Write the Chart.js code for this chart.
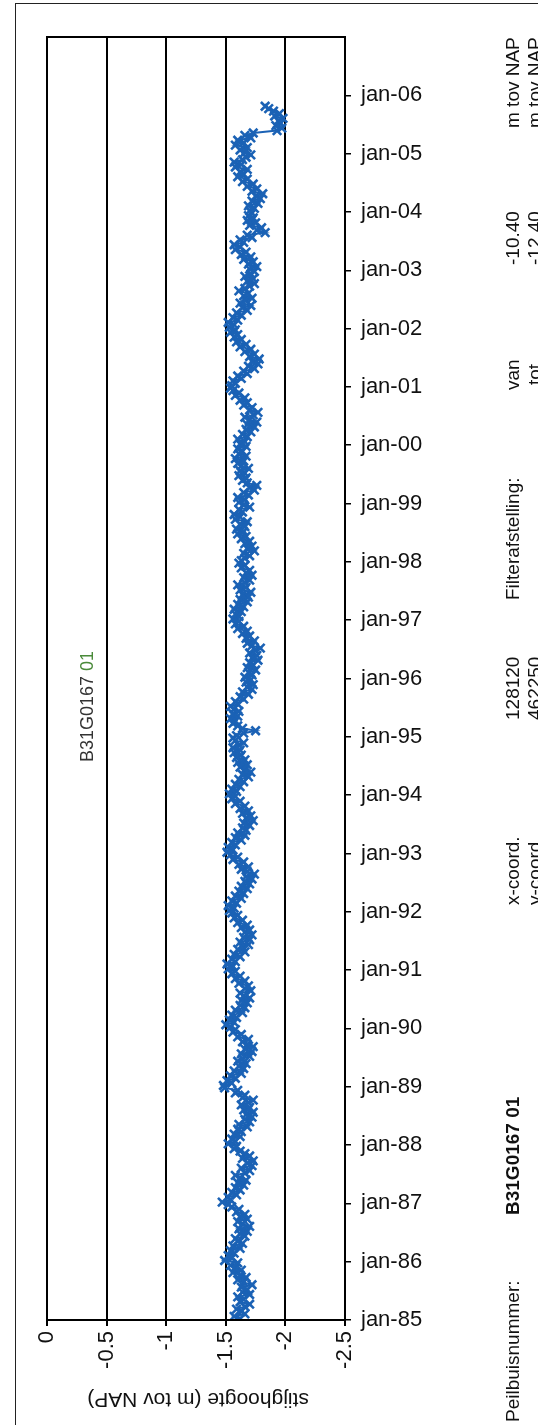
<!DOCTYPE html>
<html>
<head>
<meta charset="utf-8">
<script src="https://cdn.jsdelivr.net/npm/chart.js@4/dist/chart.umd.min.js"></script>
<style>
html,body{margin:0;padding:0;background:#fff;}
#wrap{position:relative;width:538px;height:1425px;overflow:hidden;background:#fff;}
#c{position:absolute;left:0;top:0;}
.frame{position:absolute;left:15px;top:3px;width:600px;height:1500px;border-left:1.5px solid #222;border-top:1.5px solid #222;}
.land{position:absolute;left:0;top:1425px;width:1425px;height:538px;transform-origin:0 0;transform:rotate(-90deg);font-family:"Liberation Sans",Arial,sans-serif;color:#111;}
.t{position:absolute;white-space:nowrap;font-size:19px;line-height:19px;}
.b{font-weight:bold;}
.axt{position:absolute;left:198px;top:1400px;transform:translate(-50%,-50%) rotate(180deg);font-family:"Liberation Sans",Arial,sans-serif;font-size:21px;color:#111;white-space:nowrap;}
</style>
</head>
<body>
<div id="wrap">
<canvas id="c" width="538" height="1425"></canvas>
<div class="frame"></div>
<div class="axt">stijghoogte (m tov NAP)</div>
<div class="land">
  <span class="t" style="left:663px;top:78px;font-size:18px;color:#333;">B31G0167 <span style="color:#4a8a3a;">01</span></span>
  <span class="t" style="left:3px;top:503px;">Peilbuisnummer:</span>
  <span class="t b" style="left:210px;top:503px;">B31G0167 01</span>
  <span class="t" style="left:520px;top:503px;">x-coord.</span>
  <span class="t" style="left:520px;top:525px;">y-coord.</span>
  <span class="t" style="left:705px;top:503px;">128120</span>
  <span class="t" style="left:705px;top:525px;">462250</span>
  <span class="t" style="left:825px;top:503px;">Filterafstelling:</span>
  <span class="t" style="left:1035px;top:503px;">van</span>
  <span class="t" style="left:1040px;top:525px;">tot</span>
  <span class="t" style="left:1160px;top:503px;">-10.40</span>
  <span class="t" style="left:1160px;top:525px;">-12.40</span>
  <span class="t" style="left:1297px;top:503px;">m tov NAP</span>
  <span class="t" style="left:1297px;top:525px;">m tov NAP</span>
</div>
</div>
<script>
// ---- data (stijghoogte, m tov NAP), readings twice a month ----
const levels1985 = [-1.62,-1.57,-1.66,-1.63,-1.59,-1.66,-1.70,-1.62,-1.65,-1.60,-1.70,-1.64,-1.68,-1.63,-1.72,-1.65,-1.60,-1.67,-1.62,-1.56,-1.63,-1.58,-1.54,-1.60];
const levels1986 = [-1.49,-1.55,-1.52,-1.57,-1.54,-1.62,-1.56,-1.64,-1.60,-1.58,-1.66,-1.62,-1.68,-1.61,-1.70,-1.64,-1.60,-1.68,-1.62,-1.66,-1.59,-1.61,-1.55,-1.52];
const levels1987 = [-1.47,-1.54,-1.52,-1.59,-1.55,-1.62,-1.58,-1.65,-1.60,-1.67,-1.62,-1.58,-1.66,-1.70,-1.63,-1.72,-1.68,-1.73,-1.64,-1.70,-1.66,-1.62,-1.57,-1.59];
const levels1988 = [-1.52,-1.58,-1.55,-1.62,-1.57,-1.63,-1.60,-1.68,-1.61,-1.70,-1.66,-1.72,-1.67,-1.73,-1.65,-1.70,-1.63,-1.69,-1.73,-1.64,-1.66,-1.58,-1.60,-1.49];
const levels1989 = [-1.48,-1.55,-1.51,-1.58,-1.54,-1.63,-1.57,-1.65,-1.61,-1.67,-1.60,-1.64,-1.70,-1.63,-1.72,-1.66,-1.73,-1.68,-1.64,-1.69,-1.60,-1.63,-1.56,-1.58];
const levels1990 = [-1.54,-1.50,-1.57,-1.53,-1.59,-1.55,-1.64,-1.58,-1.66,-1.62,-1.68,-1.63,-1.70,-1.65,-1.62,-1.71,-1.66,-1.69,-1.61,-1.66,-1.58,-1.62,-1.55,-1.58];
const levels1991 = [-1.52,-1.56,-1.51,-1.58,-1.55,-1.62,-1.57,-1.66,-1.60,-1.64,-1.69,-1.62,-1.70,-1.65,-1.72,-1.66,-1.70,-1.63,-1.68,-1.60,-1.64,-1.57,-1.60,-1.55];
const levels1992 = [-1.53,-1.57,-1.52,-1.59,-1.55,-1.63,-1.58,-1.65,-1.61,-1.68,-1.63,-1.70,-1.66,-1.72,-1.67,-1.74,-1.68,-1.63,-1.69,-1.61,-1.65,-1.56,-1.60,-1.54];
const levels1993 = [-1.51,-1.56,-1.52,-1.58,-1.55,-1.63,-1.58,-1.66,-1.60,-1.67,-1.64,-1.70,-1.65,-1.73,-1.67,-1.71,-1.64,-1.69,-1.62,-1.66,-1.58,-1.62,-1.55,-1.58];
const levels1994 = [-1.53,-1.59,-1.55,-1.62,-1.58,-1.65,-1.61,-1.69,-1.64,-1.71,-1.66,-1.62,-1.68,-1.60,-1.66,-1.59,-1.63,-1.57,-1.62,-1.56,-1.61,-1.65,-1.58,-1.56];
const levels1995 = [-1.59,-1.65,-1.75,-1.64,-1.60,-1.56,-1.58,-1.54,-1.60,-1.56,-1.61,-1.57,-1.54,-1.60,-1.58,-1.65,-1.62,-1.69,-1.64,-1.72,-1.68,-1.73,-1.67,-1.71];
const levels1996 = [-1.66,-1.72,-1.69,-1.75,-1.68,-1.73,-1.70,-1.77,-1.72,-1.76,-1.70,-1.75,-1.79,-1.72,-1.68,-1.74,-1.67,-1.70,-1.64,-1.68,-1.60,-1.65,-1.58,-1.61];
const levels1997 = [-1.56,-1.61,-1.58,-1.63,-1.57,-1.65,-1.60,-1.68,-1.62,-1.69,-1.64,-1.71,-1.62,-1.67,-1.60,-1.66,-1.70,-1.65,-1.72,-1.67,-1.70,-1.63,-1.66,-1.61];
const levels1998 = [-1.63,-1.66,-1.70,-1.65,-1.74,-1.68,-1.72,-1.66,-1.70,-1.63,-1.67,-1.60,-1.65,-1.59,-1.66,-1.62,-1.68,-1.58,-1.62,-1.57,-1.64,-1.61,-1.70,-1.65];
const levels1999 = [-1.61,-1.66,-1.60,-1.69,-1.65,-1.74,-1.70,-1.76,-1.68,-1.64,-1.67,-1.61,-1.66,-1.62,-1.69,-1.63,-1.60,-1.65,-1.58,-1.67,-1.61,-1.64,-1.60,-1.67];
const levels2000 = [-1.62,-1.66,-1.60,-1.68,-1.64,-1.71,-1.67,-1.74,-1.68,-1.76,-1.70,-1.66,-1.73,-1.77,-1.70,-1.72,-1.65,-1.68,-1.62,-1.66,-1.58,-1.61,-1.56,-1.54];
const levels2001 = [-1.55,-1.58,-1.56,-1.63,-1.60,-1.68,-1.65,-1.74,-1.69,-1.77,-1.72,-1.78,-1.70,-1.74,-1.66,-1.71,-1.62,-1.67,-1.59,-1.63,-1.57,-1.60,-1.54,-1.58];
const levels2002 = [-1.53,-1.57,-1.52,-1.60,-1.56,-1.63,-1.59,-1.68,-1.64,-1.71,-1.62,-1.67,-1.72,-1.65,-1.69,-1.61,-1.66,-1.70,-1.74,-1.68,-1.73,-1.66,-1.71,-1.74];
const levels2003 = [-1.70,-1.76,-1.69,-1.73,-1.65,-1.71,-1.63,-1.67,-1.58,-1.62,-1.57,-1.65,-1.62,-1.72,-1.68,-1.83,-1.76,-1.80,-1.70,-1.75,-1.68,-1.73,-1.69,-1.72];
const levels2004 = [-1.70,-1.74,-1.69,-1.77,-1.72,-1.79,-1.75,-1.81,-1.72,-1.76,-1.68,-1.73,-1.64,-1.68,-1.60,-1.65,-1.62,-1.68,-1.58,-1.63,-1.57,-1.64,-1.67,-1.71];
const levels2005 = [-1.66,-1.62,-1.68,-1.58,-1.65,-1.60,-1.71,-1.66,-1.73,-1.93,-1.97,-1.92,-1.96,-1.94,-1.98,-1.91,-1.95,-1.90,-1.86,-1.83];

const measureYears = [1985,1986,1987,1988,1989,1990,1991,1992,1993,1994,1995,1996,1997,1998,1999,2000,2001,2002,2003,2004,2005];
const levelsByYear = [levels1985,levels1986,levels1987,levels1988,levels1989,levels1990,levels1991,levels1992,levels1993,levels1994,levels1995,levels1996,levels1997,levels1998,levels1999,levels2000,levels2001,levels2002,levels2003,levels2004,levels2005];
const readingsPerYear = 24;

// axis ticks
const timeTickYears = [1985,1986,1987,1988,1989,1990,1991,1992,1993,1994,1995,1996,1997,1998,1999,2000,2001,2002,2003,2004,2005,2006];
const timeTickLabels = ['jan-85','jan-86','jan-87','jan-88','jan-89','jan-90','jan-91','jan-92','jan-93','jan-94','jan-95','jan-96','jan-97','jan-98','jan-99','jan-00','jan-01','jan-02','jan-03','jan-04','jan-05','jan-06'];
const levelTicks = [0,-0.5,-1,-1.5,-2,-2.5];
const levelTickLabels = ['0','-0.5','-1','-1.5','-2','-2.5'];

const points = [];
measureYears.forEach((yr, i) => {
  levelsByYear[i].forEach((v, k) => points.push({x: v, y: yr + (k + 0.5) / readingsPerYear}));
});

const BLUE = '#1b62b5';
const FONT = {family: "'Liberation Sans', Arial, sans-serif", size: 22};

const framePlugin = {
  id: 'frame',
  afterDraw(chart) {
    const a = chart.chartArea, ctx = chart.ctx;
    ctx.save();
    ctx.strokeStyle = '#000';
    ctx.lineWidth = 2;
    ctx.strokeRect(a.left, a.top, a.right - a.left, a.bottom - a.top);
    ctx.restore();
  }
};

new Chart(document.getElementById('c'), {
  type: 'scatter',
  data: {
    datasets: [{
      data: points,
      showLine: true,
      borderColor: BLUE,
      backgroundColor: BLUE,
      borderWidth: 2,
      pointStyle: 'crossRot',
      pointRadius: 6,
      pointBorderWidth: 2.6,
      pointBorderColor: BLUE,
      pointHoverRadius: 6
    }]
  },
  options: {
    responsive: false,
    animation: false,
    devicePixelRatio: 1,
    layout: {padding: {left: 47, top: 37, right: 0, bottom: 0}},
    plugins: {legend: {display: false}, tooltip: {enabled: false}, title: {display: false}},
    scales: {
      x: {
        type: 'linear',
        position: 'bottom',
        min: -2.5, max: 0, reverse: true,
        afterBuildTicks: s => { s.ticks = levelTicks.map(v => ({value: v})); },
        afterFit: s => { s.height = 105; },
        grid: {color: '#000', lineWidth: 2, tickLength: 6, drawTicks: true},
        border: {display: true, color: '#000', width: 2},
        ticks: {
          minRotation: 90, maxRotation: 90, padding: 5,
          color: '#111', font: FONT,
          callback: v => { const i = levelTicks.indexOf(v); return i >= 0 ? levelTickLabels[i] : ''; }
        }
      },
      y: {
        type: 'linear',
        position: 'right',
        min: 1985, max: 2007,
        afterBuildTicks: s => { s.ticks = timeTickYears.map(v => ({value: v})); },
        afterFit: s => { s.width = 193; },
        grid: {drawOnChartArea: false, drawTicks: true, tickLength: 6, color: '#000', lineWidth: 1.5},
        border: {display: true, color: '#000', width: 2},
        ticks: {
          padding: 10, color: '#111', font: FONT, autoSkip: false,
          callback: v => { const i = timeTickYears.indexOf(v); return i >= 0 ? timeTickLabels[i] : ''; }
        }
      }
    }
  },
  plugins: [framePlugin]
});
</script>
</body>
</html>
